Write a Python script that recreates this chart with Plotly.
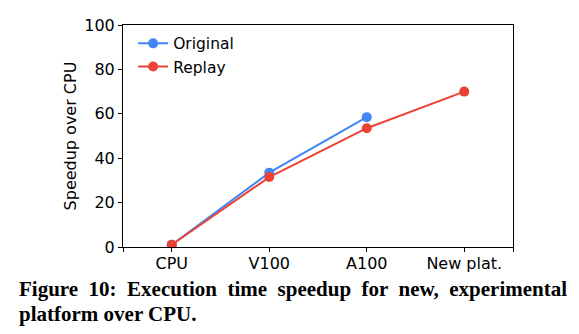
import plotly.graph_objects as go

categories = ["CPU", "V100", "A100", "New plat."]
original = [1.0, 33.5, 58.5]
replay = [1.0, 31.5, 53.5, 70.0]
y_ticks = [0, 20, 40, 60, 80, 100]

xpos = list(range(len(categories)))

fig = go.Figure()
fig.add_trace(go.Scatter(x=xpos[:len(original)], y=original, name="Original",
                         mode="lines+markers", line=dict(color="#4285F4", width=2),
                         marker=dict(size=10, color="#4285F4")))
fig.add_trace(go.Scatter(x=xpos[:len(replay)], y=replay, name="Replay",
                         mode="lines+markers", line=dict(color="#EA4335", width=2),
                         marker=dict(size=10, color="#EA4335")))

fig.update_layout(
    width=579, height=334,
    margin=dict(l=123, r=66, t=25, b=87),
    plot_bgcolor="white", paper_bgcolor="white",
    font=dict(family="DejaVu Sans", size=16, color="black"),
    showlegend=True,
    legend=dict(x=0.026, y=0.992, xanchor="left", yanchor="top",
                bgcolor="rgba(255,255,255,0)", font=dict(size=15.5),
                itemwidth=30, tracegroupgap=0),
    xaxis=dict(range=[-0.5, 3.5], tickvals=[-0.5] + xpos + [3.5],
               ticktext=[""] + categories + [""],
               showgrid=False, zeroline=False, showline=True, linecolor="black",
               linewidth=1, mirror=True, ticks="outside", ticklen=4, tickcolor="black",
               ticklabelstandoff=-2),
    yaxis=dict(range=[0, 100], tickvals=y_ticks,
               showgrid=False, zeroline=False, showline=True, linecolor="black",
               linewidth=1, mirror=True, ticks="outside", ticklen=4, tickcolor="black",
               title=dict(text="Speedup over CPU", standoff=3, font=dict(size=16))),
)

cap1 = " &nbsp;".join("Figure 10: Execution time speedup for new, experimental".split(" "))
fig.add_annotation(xref="paper", yref="paper", x=-0.272, y=-0.19, xanchor="left", yanchor="middle",
                   text="<b>" + cap1 + "</b>",
                   showarrow=False, font=dict(family="Liberation Serif", size=21, color="black"))
fig.add_annotation(xref="paper", yref="paper", x=-0.272, y=-0.30, xanchor="left", yanchor="middle",
                   text="<b>platform over CPU.</b>",
                   showarrow=False, font=dict(family="Liberation Serif", size=21, color="black"))

fig.write_html("out.html")
